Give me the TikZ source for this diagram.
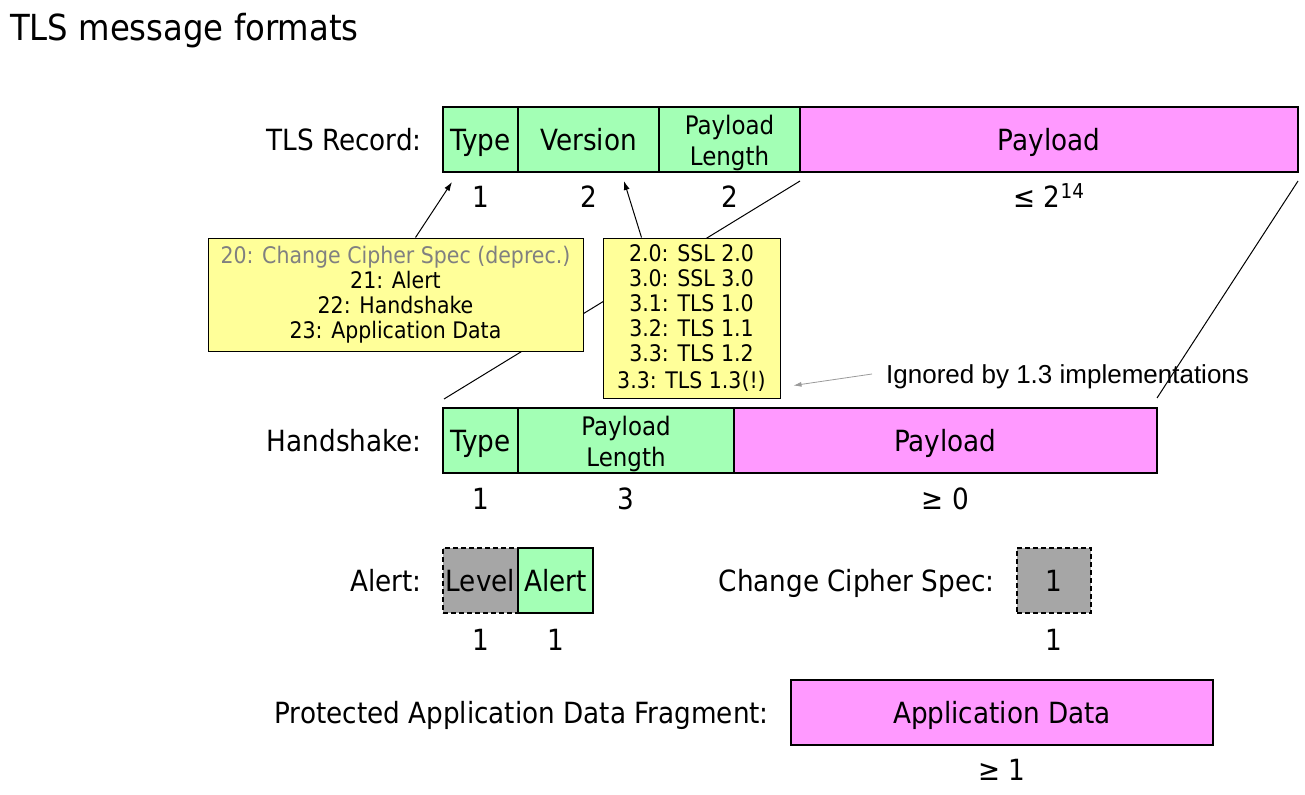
\documentclass[tikz,border=0pt]{standalone}
\usepackage{fontspec}
\setmainfont{DejaVu Sans Condensed}
\newfontfamily\notefont{Liberation Sans}
\usetikzlibrary{positioning, arrows.meta, backgrounds}

\definecolor{fieldgreen}{HTML}{A3FFB5}
\definecolor{fieldpink}{HTML}{FF99FF}
\definecolor{fieldgray}{HTML}{A6A6A6}
\definecolor{noteyellow}{HTML}{FFFF99}
\definecolor{oldgray}{HTML}{808080}

\begin{document}
\begin{tikzpicture}[
    x=1bp, y=-1bp,
    every node/.style={font=\fontsize{29.2bp}{34bp}\selectfont},
    capline/.style={text height=21.3bp, text depth=0pt},
    field/.style={draw, line width=1.2bp, inner sep=0pt, outer sep=0pt, minimum height=65bp, capline},
    small/.style={font=\fontsize{25.5bp}{31bp}\selectfont, align=center, text height=, text depth=},
    optional/.style={field, dash pattern=on 5bp off 3bp, fill=fieldgray},
    rowlabel/.style={anchor=east, inner sep=0pt, capline},
    size/.style={capline},
    note/.style={draw, line width=1bp, fill=noteyellow, inner sep=0pt, align=center,
                 font=\fontsize{22.8bp}{25bp}\selectfont},
    tip/.style={-{Latex[length=9bp, width=6bp]}, line width=1bp},
]
\useasboundingbox (0,0) rectangle (1305,794);

\node[anchor=west, inner sep=0pt, text height=26bp, text depth=0pt,
      font=\fontsize{35.9bp}{40bp}\selectfont] (heading) at (10,28) {TLS message formats};

% ── TLS Record ───────────────────────────────────────────────────────────────
\node[field, fill=fieldgreen, minimum width=75bp, anchor=north west] (rtype) at (443,107) {Type};
\node[field, fill=fieldgreen, minimum width=141bp, right=0pt of rtype] (rver) {Version};
\node[field, fill=fieldgreen, minimum width=141bp, right=0pt of rver, small] (rlen) {\rule{0pt}{25.4bp}Payload\\Length};
\node[field, fill=fieldpink, minimum width=498bp, right=0pt of rlen] (rpay) {Payload};
\node[rowlabel] (rlabel) at ([xshift=-21bp]rtype.west) {TLS Record:};
\node[size] (rtypesize) at ([yshift=-25bp]rtype.south) {1};
\node[size] (rversize)  at ([yshift=-25bp]rver.south) {2};
\node[size] (rlensize)  at ([yshift=-25bp]rlen.south) {2};
\node[size] (rpaysize)  at ([yshift=-25bp]rpay.south) {≤ 2\textsuperscript{14}};

% ── Notes on type and version ────────────────────────────────────────────────
\node[note, minimum width=375bp, minimum height=113bp] (ctype) at (395.5,294.5)
    {\textcolor{oldgray}{20: Change Cipher Spec (deprec.)}\\21: Alert\\22: Handshake\\23: Application Data};
\node[note, minimum width=177bp, minimum height=160bp] (cver) at (691.5,318)
    {2.0: SSL 2.0\\3.0: SSL 3.0\\3.1: TLS 1.0\\3.2: TLS 1.1\\3.3: TLS 1.2\\[2bp]3.3: TLS 1.3(!)};
\node[anchor=west, inner sep=0pt, text height=18.6bp, text depth=0pt,
      font=\notefont\fontsize{26bp}{30bp}\selectfont] (ignored) at (886,374)
    {Ignored by 1.3 implementations};

\draw[tip] ([xshift=208bp]ctype.north west) -- ([shift={(9bp,-10bp)}]rtype.south west);
\draw[tip] ([xshift=39bp]cver.north west) -- ([shift={(106bp,-9bp)}]rver.south west);
\draw[-{Latex[length=8bp, width=5bp]}, line width=0.8bp, oldgray!80]
    ([xshift=-14bp]ignored.west) -- ([shift={(13bp,13bp)}]cver.south east);

% ── Handshake ────────────────────────────────────────────────────────────────
\node[field, fill=fieldgreen, minimum width=75bp, anchor=north west] (htype) at (443,408) {Type};
\node[field, fill=fieldgreen, minimum width=216bp, right=0pt of htype, small] (hlen) {\rule{0pt}{25.4bp}Payload\\Length};
\node[field, fill=fieldpink, minimum width=423bp, right=0pt of hlen] (hpay) {Payload};
\node[rowlabel] (hlabel) at ([xshift=-21bp]htype.west) {Handshake:};
\node[size] (htypesize) at ([yshift=-26bp]htype.south) {1};
\node[size] (hlensize)  at ([yshift=-26bp]hlen.south) {3};
\node[size] (hpaysize)  at ([yshift=-26bp]hpay.south) {≥ 0};

\begin{pgfonlayer}{background}
    \draw[line width=1bp] ([yshift=-9bp]rlen.south east) -- ([shift={(1bp,9bp)}]htype.north west);
\end{pgfonlayer}
\draw[line width=1bp] ([yshift=-9bp]rpay.south east) -- ([yshift=10bp]hpay.north east);

% ── Alert and Change Cipher Spec ─────────────────────────────────────────────
\node[optional, minimum width=75bp, anchor=north west] (alevel) at (443,548) {Level};
\node[field, fill=fieldgreen, minimum width=75bp, right=0pt of alevel] (adesc) {Alert};
\node[rowlabel] (alabel) at ([xshift=-21bp]alevel.west) {Alert:};
\node[size] (alevelsize) at ([yshift=-27bp]alevel.south) {1};
\node[size] (adescsize)  at ([yshift=-27bp]adesc.south) {1};

\node[optional, minimum width=74bp, anchor=north west] (ccs) at (1017,548) {1};
\node[rowlabel] (ccslabel) at ([xshift=-22bp]ccs.west) {Change Cipher Spec:};
\node[size] (ccssize) at ([yshift=-27bp]ccs.south) {1};

% ── Protected application data ───────────────────────────────────────────────
\node[field, fill=fieldpink, minimum width=422bp, anchor=north west] (pdata) at (791,680) {Application Data};
\node[rowlabel] (plabel) at ([xshift=-22bp]pdata.west) {Protected Application Data Fragment:};
\node[size] (pdatasize) at ([yshift=-25bp]pdata.south) {≥ 1};

\end{tikzpicture}
\end{document}
